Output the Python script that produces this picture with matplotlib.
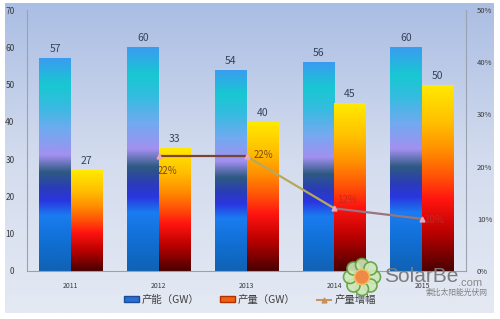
import numpy as np
import matplotlib
matplotlib.use('Agg')
import matplotlib.pyplot as plt
from matplotlib.colors import LinearSegmentedColormap
from matplotlib.patches import Patch, Circle
from matplotlib.lines import Line2D
from matplotlib.collections import LineCollection

plt.rcParams['font.family'] = ['Noto Sans CJK SC', 'DejaVu Sans']

years = ['2011', '2012', '2013', '2014', '2015']
capacity = [57, 60, 54, 56, 60]
production = [27, 33, 40, 45, 50]
growth_idx = [1, 2, 3, 4]
growth = [0.22, 0.22, 0.12, 0.10]
growth_labels = ['22%', '22%', '12%', '10%']
left_ticks = [0, 10, 20, 30, 40, 50, 60, 70]
right_ticks = [0, 0.1, 0.2, 0.3, 0.4, 0.5]
right_tick_labels = ['0%', '10%', '20%', '30%', '40%', '50%']
legend_labels = ['产能（GW）', '产量（GW）', '产量增幅']

W, H = 500, 319
fig = plt.figure(figsize=(W / 100, H / 100), dpi=100)
fig.patch.set_facecolor('white')

# background panel gradient
bg = fig.add_axes([0.01, 0.019, 0.978, 0.972], zorder=0)
bg_cmap = LinearSegmentedColormap.from_list('bg', ['#e4e9f3', '#d3dcee', '#aabde3'])
bg.imshow(np.linspace(0, 1, 256).reshape(-1, 1), cmap=bg_cmap, aspect='auto',
          origin='lower', extent=[0, 1, 0, 1])
bg.set_axis_off()

ax = fig.add_axes([27 / W, 1 - 271 / H, (466 - 27) / W, (271 - 10) / H], zorder=1)
ax.patch.set_alpha(0)

cap_cmap = LinearSegmentedColormap.from_list('cap', [
    (0.0, '#1062b4'), (0.12, '#106ed0'), (0.26, '#1a7cf0'), (0.33, '#2a36e0'),
    (0.39, '#2a3cb8'), (0.465, '#2e5a82'), (0.545, '#a290f0'), (0.66, '#72aaf0'),
    (0.78, '#34bce0'), (0.875, '#18c8d2'), (1.0, '#3a9cf0')])
prod_cmap = LinearSegmentedColormap.from_list('prod', [
    (0.0, '#4a0000'), (0.2, '#b80000'), (0.38, '#ff1410'), (0.5, '#ff5008'),
    (0.65, '#ff9000'), (0.8, '#ffc000'), (1.0, '#ffea00')])

x = np.arange(len(years))
bw = 0.36
grad = np.linspace(0, 1, 256).reshape(-1, 1)

cap_bars = ax.bar(x - bw / 2, capacity, bw, facecolor='none', edgecolor='none')
prod_bars = ax.bar(x + bw / 2, production, bw, facecolor='none', edgecolor='none')
for bars, cmap in ((cap_bars, cap_cmap), (prod_bars, prod_cmap)):
    for b in bars:
        x0, w, h = b.get_x(), b.get_width(), b.get_height()
        im = ax.imshow(grad, cmap=cmap, aspect='auto', origin='lower',
                       extent=[x0, x0 + w, 0, h], zorder=2)
        im.set_clip_path(b)

for bars, vals in ((cap_bars, capacity), (prod_bars, production)):
    for b, v in zip(bars, vals):
        ax.annotate(str(v), (b.get_x() + b.get_width() / 2, v), xytext=(0, 4),
                    textcoords='offset pixels', ha='center', va='bottom',
                    fontsize=7.5, color='#34445a', zorder=5)

ax.set_xlim(-0.5, len(years) - 0.5)
ax.set_ylim(0, 70)
ax.set_yticks(left_ticks)
ax.set_xticks(x)
ax.set_xticklabels(years)
ax.tick_params(axis='y', length=0, pad=9, labelsize=6, labelcolor='#3a3a3a')
ax.tick_params(axis='x', length=0, pad=8, labelsize=5, labelcolor='#3a3a3a')
for s in ('top', 'right'):
    ax.spines[s].set_visible(False)
for s in ('left', 'bottom'):
    ax.spines[s].set_color('#9aa2b0')
    ax.spines[s].set_linewidth(0.8)

ax2 = ax.twinx()
ax2.set_zorder(3)
ax2.patch.set_alpha(0)
ax2.set_ylim(0, 0.5)
ax2.set_yticks(right_ticks)
ax2.set_yticklabels(right_tick_labels)
ax2.tick_params(axis='y', length=0, pad=8, labelsize=5.5, labelcolor='#3a3a3a')
for s in ('top', 'left', 'bottom'):
    ax2.spines[s].set_visible(False)
ax2.spines['right'].set_color('#9aa2b0')
ax2.spines['right'].set_linewidth(0.8)

pts = np.column_stack([growth_idx, growth])
segs = np.stack([pts[:-1], pts[1:]], axis=1)
lc = LineCollection(segs, colors=['#7a4432', '#b8a85a', '#9a7480'], linewidths=1.6, zorder=4)
ax2.add_collection(lc)
ax2.plot(growth_idx, growth, linestyle='none', marker='^', markersize=3.5,
         color='#e8a8c0', zorder=5)

offsets = [(9, -15), (17, 1), (13, 8), (12, -1)]
lab_colors = ['#7a4a14', '#7a4a14', '#c02a20', '#c02a20']
for xi, g, lab, off, c in zip(growth_idx, growth, growth_labels, offsets, lab_colors):
    ax2.annotate(lab, (xi, g), xytext=off, textcoords='offset pixels',
                 ha='center', va='center', fontsize=7, color=c, zorder=6)

handles = [Patch(facecolor='#2a6ed0', edgecolor='#1a4c9a'),
           Patch(facecolor='#f06010', edgecolor='#b03000'),
           Line2D([], [], color='#c89058', marker='^', markersize=3.5, lw=1.4)]
fig.legend(handles, legend_labels, loc='center', bbox_to_anchor=(0.5, 0.06), ncol=3,
           frameon=False, fontsize=7.5, handlelength=1.4, handleheight=0.5,
           columnspacing=2.0, handletextpad=0.3, labelcolor='#404040')

# watermark
wm = fig.add_axes([0, 0, 1, 1], zorder=10)
wm.set_xlim(0, W)
wm.set_ylim(H, 0)
wm.set_axis_off()
cx, cy = 362, 277
for k in range(8):
    a = k * np.pi / 4
    wm.add_patch(Circle((cx + 12 * np.cos(a), cy + 12 * np.sin(a)), 6.5,
                        facecolor='#cfe8b8', edgecolor='#5fa040', lw=1.2, alpha=0.9))
wm.add_patch(Circle((cx, cy), 7.5, facecolor='#f08848', edgecolor='#f0c060', lw=1.2))
wm.text(384, 277, 'SolarBe', fontsize=15, color='#7c7c7c',
        ha='left', va='center', family=['Liberation Sans'])
wm.text(458, 283, '.com', fontsize=8, color='#8a8a8a', ha='left', va='center',
        family=['Liberation Sans'])
wm.text(488, 293, '索比太阳能光伏网', fontsize=5.6, color='#808080', ha='right', va='center')

fig.savefig('out.png', dpi=100, facecolor='white')
